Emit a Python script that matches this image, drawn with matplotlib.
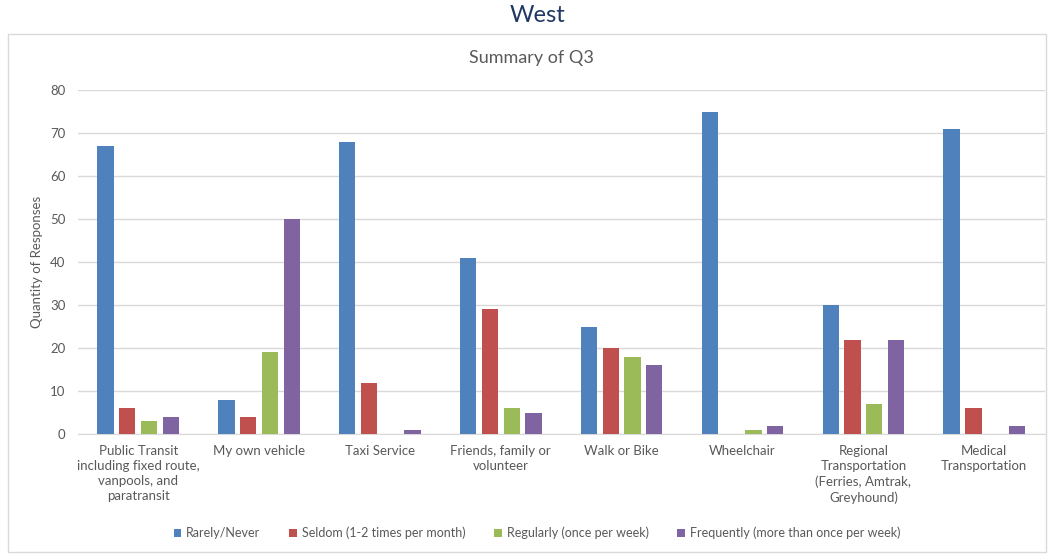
import numpy as np
import matplotlib
matplotlib.use("Agg")
import matplotlib.pyplot as plt
from matplotlib.patches import Rectangle

plt.rcParams['font.family'] = ['Lato', 'DejaVu Sans']

categories = [
    "Public Transit\nincluding fixed route,\nvanpools, and\nparatransit",
    "My own vehicle",
    "Taxi Service",
    "Friends, family or\nvolunteer",
    "Walk or Bike",
    "Wheelchair",
    "Regional\nTransportation\n(Ferries, Amtrak,\nGreyhound)",
    "Medical\nTransportation",
]
series_names = [
    "Rarely/Never",
    "Seldom (1-2 times per month)",
    "Regularly (once per week)",
    "Frequently (more than once per week)",
]
rarely = [67, 8, 68, 41, 25, 75, 30, 71]
seldom = [6, 4, 12, 29, 20, 0, 22, 6]
regularly = [3, 19, 0, 6, 18, 1, 7, 0]
frequently = [4, 50, 1, 5, 16, 2, 22, 2]
colors = ["#4F81BD", "#C0504D", "#9BBB59", "#8064A2"]

fig = plt.figure(figsize=(10.51, 5.56), dpi=100)

# chart frame
fig.patches.append(Rectangle((8 / 1051, 4 / 556), 1038 / 1051, 518 / 556,
                             transform=fig.transFigure, fill=False,
                             edgecolor="#D9D9D9", linewidth=1.0))

ax = fig.add_axes([0.074, 0.219, 0.920, 0.619])
x = np.arange(len(categories))
width = 0.135
step = 0.18
for i, (vals, name, c) in enumerate(zip([rarely, seldom, regularly, frequently],
                                         series_names, colors)):
    ax.bar(x + (i - 1.5) * step, vals, width, color=c, label=name, zorder=3)

ax.set_xlim(-0.5, len(categories) - 0.5)
ax.set_ylim(0, 80)
ax.set_yticks(range(0, 81, 10))
ax.yaxis.grid(True, color="#D9D9D9", linewidth=1.0, zorder=0)
ax.set_xticks(x)
ax.set_xticklabels(categories, fontsize=9.5, color="#595959", linespacing=1.3)
ax.tick_params(axis="both", length=0, labelsize=9.5, labelcolor="#595959")
ax.tick_params(axis="x", pad=8)
ax.tick_params(axis="y", pad=9)
for side in ["top", "right", "left"]:
    ax.spines[side].set_visible(False)
ax.spines["bottom"].set_color("#D9D9D9")
ax.set_ylabel("Quantity of Responses", fontsize=9.5, color="#595959", labelpad=5)

fig.text(0.511, 0.972, "West", ha="center", va="center", fontsize=17,
         color="#1F3864")
fig.text(0.506, 0.895, "Summary of Q3", ha="center", va="center", fontsize=13,
         color="#595959")

fig.legend(loc="center", bbox_to_anchor=(0.511, 0.041), ncol=4, frameon=False,
           fontsize=9, handlelength=0.6, handleheight=0.6, handletextpad=0.4,
           columnspacing=2.3, labelcolor="#595959")

fig.savefig("out.png", dpi=100)
